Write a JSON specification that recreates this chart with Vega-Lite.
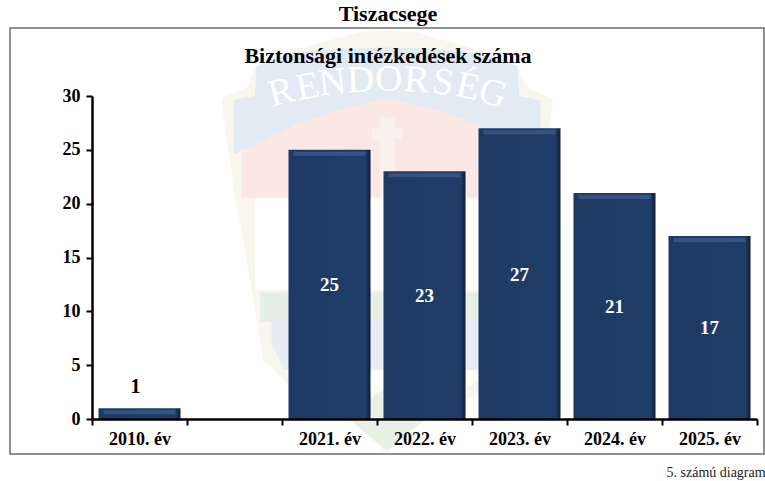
{"$schema":"https://vega.github.io/schema/vega-lite/v6.json",
"width":754,"height":426,"autosize":{"type":"none"},"padding":{"left":10,"top":28,"right":1,"bottom":27},
"background":"white",
"view":{"stroke":"#6e6e6e","strokeWidth":1.5,"fill":null},
"config":{"font":"Liberation Serif"},
"title":{"text":"Tiszacsege","subtitle":"Biztonsági intézkedések száma","anchor":"start","align":"center","dx":378,"offset":-40,"font":"Liberation Serif","fontSize":22,"fontWeight":"bold","color":"#000","subtitleFont":"Liberation Serif","subtitleFontSize":22,"subtitleFontWeight":"bold","subtitleColor":"#000","subtitlePadding":20},
"datasets":{
"shield":[{"u":-1,"a":29.8,"b":29},{"u":-0.92,"a":30.3,"b":20.5},{"u":-0.85,"a":30.8,"b":14.8},{"u":-0.8,"a":32.5,"b":10},{"u":-0.75,"a":33.2,"b":5.5},{"u":-0.53,"a":34.4,"b":2.2},{"u":-0.18,"a":35.9,"b":-0.55},{"u":0,"a":36.1,"b":-3.2},{"u":0.18,"a":35.9,"b":-0.55},{"u":0.53,"a":34.4,"b":2.2},{"u":0.75,"a":33.2,"b":5.5},{"u":0.8,"a":32.5,"b":10},{"u":0.85,"a":30.8,"b":14.8},{"u":0.92,"a":30.3,"b":20.5},{"u":1,"a":29.8,"b":29}],
"pink":[{"u":-0.88,"a":24.6,"b":20.5},{"u":-0.79,"a":27,"b":20.5},{"u":0,"a":30,"b":20.5},{"u":0.79,"a":27,"b":20.5},{"u":0.88,"a":24.6,"b":20.5}],
"white":[{"u":-0.8,"a":20.5,"b":12},{"u":0.8,"a":20.5,"b":12}],
"green":[{"u":-0.77,"a":11.8,"b":9},{"u":0.77,"a":11.8,"b":9}],
"blue2":[{"u":-0.7,"a":9.2,"b":7},{"u":-0.62,"a":9.2,"b":4.5},{"u":0.62,"a":9.2,"b":4.5},{"u":0.7,"a":9.2,"b":7}],
"low":[{"u":-0.62,"a":4.5,"b":4.4},{"u":-0.45,"a":4.5,"b":2.5},{"u":0.45,"a":4.5,"b":2.5},{"u":0.62,"a":4.5,"b":4.4}],
"tip":[{"u":-0.25,"a":0.2,"b":0.2},{"u":0,"a":3,"b":-2.9},{"u":0.25,"a":0.2,"b":0.2}],
"ribbon":[{"u":-0.93,"a":29.6,"b":24.6},{"u":-0.8,"a":30,"b":25.4},{"u":-0.79,"a":32.8,"b":25.5},{"u":-0.56,"a":34,"b":27.3},{"u":-0.28,"a":34.4,"b":28.8},{"u":0,"a":34.5,"b":29.8},{"u":0.28,"a":34.4,"b":28.8},{"u":0.56,"a":34,"b":27.3},{"u":0.79,"a":32.8,"b":25.5},{"u":0.8,"a":30,"b":25.4},{"u":0.93,"a":29.6,"b":24.6}],
"cross":[{"u":-0.045,"a":28,"b":20.5},{"u":0.045,"a":28,"b":20.5}],
"crossbar":[{"u":-0.09,"a":27,"b":26},{"u":0.09,"a":27,"b":26}],
"betuk":[{"b":"R","u":-0.64,"v":30.3,"r":-14},{"b":"E","u":-0.48,"v":30.8,"r":-10},{"b":"N","u":-0.33,"v":31.2,"r":-6},{"b":"D","u":-0.16,"v":31.4,"r":-2},{"b":"Ő","u":0.01,"v":31.5,"r":0},{"b":"R","u":0.18,"v":31.4,"r":4},{"b":"S","u":0.34,"v":31.2,"r":8},{"b":"É","u":0.49,"v":30.8,"r":12},{"b":"G","u":0.64,"v":30.2,"r":16}],
"rend":[{"ev":"2010. év","db":1},{"ev":"2021. év","db":25},{"ev":"2022. év","db":23},{"ev":"2023. év","db":27},{"ev":"2024. év","db":21},{"ev":"2025. év","db":17}]},
"resolve":{"scale":{"x":"independent"},"axis":{"x":"independent"}},
"layer":[
{"encoding":{
"x":{"field":"u","type":"quantitative","scale":{"domain":[-1,1],"range":[212,542]},"axis":null},
"y":{"field":"a","type":"quantitative","stack":null,"scale":{"domain":[0,30],"range":[391,68]},
"axis":{"orient":"left","offset":-82,"zindex":1,"title":null,"values":[0,5,10,15,20,25,30],"labelFontSize":18,"labelFontWeight":"bold","labelColor":"#000","labelPadding":6,"domainColor":"#000","domainWidth":2.5,"tickColor":"#000","tickWidth":2,"tickSize":6,"grid":false}},
"y2":{"field":"b"}},
"layer":[
{"data":{"name":"shield"},"mark":{"type":"area","color":"#f9f6ee"}},
{"data":{"name":"pink"},"mark":{"type":"area","color":"#fbe7e4"}},
{"data":{"name":"white"},"mark":{"type":"area","color":"#ffffff"}},
{"data":{"name":"green"},"mark":{"type":"area","color":"#e6f0e6"}},
{"data":{"name":"blue2"},"mark":{"type":"area","color":"#e6edf6"}},
{"data":{"name":"low"},"mark":{"type":"area","color":"#ffffff"}},
{"data":{"name":"tip"},"mark":{"type":"area","color":"#e9f1e6"}},
{"data":{"name":"ribbon"},"mark":{"type":"area","color":"#e2eaf4"}},
{"data":{"name":"cross"},"mark":{"type":"area","color":"#f9f1ec"}},
{"data":{"name":"crossbar"},"mark":{"type":"area","color":"#f9f1ec"}},
{"data":{"name":"betuk"},"mark":{"type":"text","color":"#ffffff","fontSize":38,"font":"Liberation Serif","baseline":"middle"},
"encoding":{"y":{"field":"v","type":"quantitative"},"y2":null,"text":{"field":"b","type":"nominal"},"angle":{"field":"r","type":"quantitative","scale":null}}}
]},
{"data":{"name":"rend"},
"layer":[
{"mark":{"type":"bar","width":82,"fill":{"gradient":"linear","x1":0,"y1":0,"x2":1,"y2":0,"stops":[{"offset":0,"color":"#1c3a63"},{"offset":0.94,"color":"#1f3d68"},{"offset":1,"color":"#0d1c33"}]}},
"encoding":{
"x":{"field":"ev","type":"nominal","sort":null,"scale":{"domain":["2010. év"," ","2021. év","2022. év","2023. év","2024. év","2025. év"],"range":[82,747],"paddingInner":0,"paddingOuter":0},
"axis":{"orient":"bottom","offset":-35,"zindex":1,"title":"5. számú diagram","titleFontSize":14,"titleFontWeight":"normal","titleColor":"#222","titleAlign":"left","titleAnchor":"start","titleX":656,"titleY":46,"labelAngle":0,"labelFontSize":18,"labelFontWeight":"bold","labelColor":"#000","labelPadding":5,"domainColor":"#000","domainWidth":2.5,"tickColor":"#000","tickWidth":2,"tickSize":6,"tickBand":"extent","grid":false}},
"y":{"field":"db","type":"quantitative"}}},
{"mark":{"type":"tick","color":"#3d6090","thickness":4,"size":72,"yOffset":4},
"encoding":{"x":{"field":"ev","type":"nominal","sort":null},"y":{"field":"db","type":"quantitative"}}},
{"transform":[{"filter":"datum.db>1"}],"mark":{"type":"text","color":"white","fontSize":19,"fontWeight":"bold","dy":1},
"encoding":{"x":{"field":"ev","type":"nominal","sort":null},"y":{"field":"db","type":"quantitative","stack":"zero","bandPosition":0.5},"text":{"field":"db","type":"quantitative"}}},
{"transform":[{"filter":"datum.db<=1"}],"mark":{"type":"text","color":"#000","fontSize":20,"fontWeight":"bold","dy":-21,"dx":-4},
"encoding":{"x":{"field":"ev","type":"nominal","sort":null},"y":{"field":"db","type":"quantitative"},"text":{"field":"db","type":"quantitative"}}}
]}
]}
